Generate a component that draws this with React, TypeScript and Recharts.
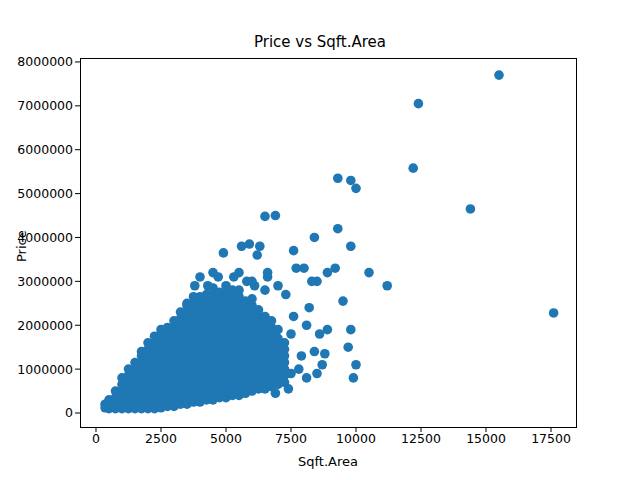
import { ScatterChart, Scatter, XAxis, YAxis } from 'recharts'

// price columns (thousands) by sqft
const columnX = [350, 500, 750, 1000, 1250, 1500, 1750, 2000, 2250, 2500, 2750, 3000, 3250, 3500, 3750, 4000, 4250, 4500, 4750, 5000, 5250, 5500, 5750, 6000, 6250, 6500, 6750, 7000, 7250]
const columnPrices = [
  [120, 200],
  [100, 200, 300],
  [100, 200, 350, 500],
  [100, 200, 350, 500, 650, 800],
  [100, 250, 400, 550, 700, 850, 1000],
  [100, 250, 400, 550, 700, 850, 1000, 1150],
  [100, 250, 400, 550, 700, 850, 1000, 1150, 1300, 1400],
  [100, 250, 400, 550, 700, 850, 1000, 1150, 1300, 1450, 1600],
  [100, 250, 400, 550, 700, 850, 1000, 1150, 1300, 1450, 1600, 1750],
  [120, 270, 420, 570, 720, 870, 1020, 1170, 1320, 1470, 1620, 1770, 1900],
  [150, 300, 450, 600, 750, 900, 1050, 1200, 1350, 1500, 1650, 1800, 1950],
  [150, 300, 450, 600, 750, 900, 1050, 1200, 1350, 1500, 1650, 1800, 1950, 2100],
  [200, 350, 500, 650, 800, 950, 1100, 1250, 1400, 1550, 1700, 1850, 2000, 2150, 2300],
  [200, 350, 500, 650, 800, 950, 1100, 1250, 1400, 1550, 1700, 1850, 2000, 2150, 2300, 2450],
  [250, 400, 550, 700, 850, 1000, 1150, 1300, 1450, 1600, 1750, 1900, 2050, 2200, 2350, 2500, 2650],
  [250, 400, 550, 700, 850, 1000, 1150, 1300, 1450, 1600, 1750, 1900, 2050, 2200, 2350, 2500, 2650],
  [300, 450, 600, 750, 900, 1050, 1200, 1350, 1500, 1650, 1800, 1950, 2100, 2250, 2400, 2550, 2700],
  [300, 450, 600, 750, 900, 1050, 1200, 1350, 1500, 1650, 1800, 1950, 2100, 2250, 2400, 2550, 2700, 2850],
  [350, 500, 650, 800, 950, 1100, 1250, 1400, 1550, 1700, 1850, 2000, 2150, 2300, 2450, 2600, 2750],
  [350, 500, 650, 800, 950, 1100, 1250, 1400, 1550, 1700, 1850, 2000, 2150, 2300, 2450, 2600, 2750, 2900],
  [400, 550, 700, 850, 1000, 1150, 1300, 1450, 1600, 1750, 1900, 2050, 2200, 2350, 2500, 2650, 2800],
  [400, 550, 700, 850, 1000, 1150, 1300, 1450, 1600, 1750, 1900, 2050, 2200, 2350, 2500, 2650, 2800],
  [450, 600, 750, 900, 1050, 1200, 1350, 1500, 1650, 1800, 1950, 2100, 2250, 2400, 2550],
  [500, 650, 800, 950, 1100, 1250, 1400, 1550, 1700, 1850, 2000, 2150, 2300, 2450, 2600],
  [550, 700, 850, 1000, 1150, 1300, 1450, 1600, 1750, 1900, 2050, 2200, 2350],
  [550, 700, 850, 1000, 1150, 1300, 1450, 1600, 1750, 1900, 2050, 2200],
  [600, 750, 900, 1050, 1200, 1350, 1500, 1650, 1800, 1950, 2100],
  [650, 800, 950, 1100, 1250, 1400, 1550, 1700, 1900],
  [700, 850, 1000, 1150, 1300, 1450, 1600],
]

// scattered points outside the dense blob [sqft, price]
const outliers = [
  [15500, 7700000], [12400, 7050000], [12200, 5580000], [14400, 4650000], [17600, 2280000],
  [11200, 2900000], [10500, 3200000], [10000, 5120000], [9800, 5300000], [9300, 5350000],
  [9800, 3800000], [9300, 4200000], [9500, 2550000], [9800, 1900000], [9700, 1500000],
  [10000, 1100000], [9900, 800000], [9200, 3300000], [8900, 3200000], [8400, 4000000],
  [8500, 3000000], [8300, 3000000], [8000, 3300000], [7700, 3300000], [7600, 3700000],
  [6900, 4500000], [6500, 4480000], [6300, 3800000], [5900, 3850000], [6200, 3600000],
  [5600, 3800000], [4900, 3650000], [8900, 1900000], [8600, 1800000], [8400, 1400000],
  [8800, 1350000], [8700, 1100000], [8500, 900000], [8100, 800000], [7800, 1000000],
  [7900, 1300000], [7500, 1800000], [7300, 2700000], [7000, 2900000], [6600, 3100000],
  [6500, 2800000], [6100, 2900000], [5800, 3000000], [5500, 3200000], [5300, 3100000],
  [4700, 3100000], [4500, 3200000], [4300, 2900000], [4000, 3100000], [3800, 2900000],
  [3500, 2500000], [7400, 550000], [6900, 450000], [7600, 2200000], [8200, 2400000],
  [7100, 1400000], [7500, 900000], [8100, 2000000], [6600, 3200000], [6000, 3000000],
]

const xTicks = [0, 2500, 5000, 7500, 10000, 12500, 15000, 17500]
const yTicks = [0, 1000000, 2000000, 3000000, 4000000, 5000000, 6000000, 7000000, 8000000]

const points = [
  ...columnX.flatMap((x, i) => columnPrices[i].map((p) => ({ x, y: p * 1000 }))),
  ...outliers.map(([x, y]) => ({ x, y })),
]

const tick = { fill: '#000', fontSize: 12.5, fontFamily: 'DejaVu Sans' }

export default function App() {
  return (
    <div style={{ position: 'absolute', left: 0, top: 0, width: 640, height: 480, background: '#fff', fontFamily: 'DejaVu Sans' }}>
      <div style={{ position: 'absolute', top: 33, width: 640, textAlign: 'center', fontSize: 15 }}>Price vs Sqft.Area</div>
      <div style={{ position: 'absolute', left: 80, top: 58, width: 495, height: 368, border: '1px solid #000' }} />
      <div style={{ position: 'absolute', left: 14, top: 262, fontSize: 13, transform: 'rotate(-90deg)', transformOrigin: 'left top' }}>Price</div>
      <div style={{ position: 'absolute', top: 454, width: 656, textAlign: 'center', fontSize: 13 }}>Sqft.Area</div>
      <ScatterChart width={640} height={480} margin={{ top: 58, right: 64, left: 0, bottom: 0 }}>
        <XAxis type="number" dataKey="x" domain={[-615, 18461]} ticks={xTicks} tick={tick}
          axisLine={false} tickSize={5} tickLine={{ stroke: '#000' }} height={53} allowDataOverflow />
        <YAxis type="number" dataKey="y" domain={[-319000, 8090000]} ticks={yTicks} tick={tick}
          axisLine={false} tickSize={5} tickLine={{ stroke: '#000' }} width={80} allowDataOverflow interval={0} />
        <Scatter data={points} isAnimationActive={false}
          shape={(p: any) => <circle cx={p.cx} cy={p.cy} r={4.8} fill="#1f77b4" />} />
      </ScatterChart>
    </div>
  )
}
